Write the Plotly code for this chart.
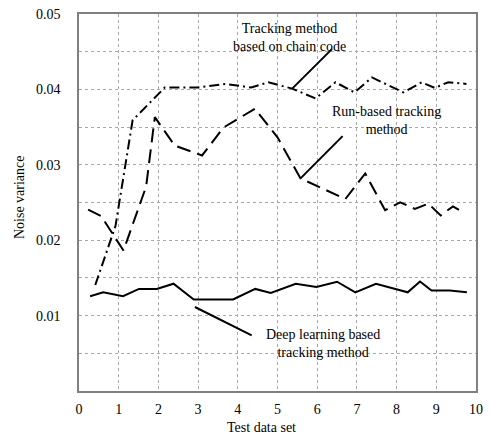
import plotly.graph_objects as go

# ---- data ----
deep_x = [0.28, 0.61, 1.11, 1.51, 1.96, 2.38, 2.89, 3.88, 4.44, 4.83, 5.46, 5.98, 6.50, 6.96, 7.48, 8.28, 8.59, 8.88, 9.34, 9.77]
deep_y = [0.01257, 0.01309, 0.01257, 0.01354, 0.01354, 0.01423, 0.01214, 0.01214, 0.01354, 0.01300,
          0.01423, 0.01380, 0.01449, 0.01309, 0.01423, 0.01309, 0.01453, 0.01332, 0.01332, 0.01309]

run_x = [0.23, 0.56, 1.12, 1.69, 1.91, 2.41, 3.10, 3.64, 4.43, 5.00, 5.58, 6.71, 7.21, 7.71, 8.09, 8.46, 8.80, 9.11, 9.42, 9.72]
run_y = [0.02406, 0.02319, 0.01863, 0.02710, 0.03633, 0.03255, 0.03124, 0.03495, 0.03743, 0.03364,
         0.02820, 0.02546, 0.02885, 0.02398, 0.02502, 0.02415, 0.02485, 0.02328, 0.02449, 0.02354]

chain_x = [0.41, 0.92, 1.35, 2.16, 2.99, 3.68, 4.34, 4.77, 5.37, 5.96, 6.46, 6.94, 7.38, 8.17, 8.63, 8.96, 9.30, 9.76]
chain_y = [0.01406, 0.02190, 0.03590, 0.04025, 0.04025, 0.04073, 0.04025, 0.04094, 0.04010, 0.03880,
           0.04094, 0.03960, 0.04159, 0.03960, 0.04094, 0.04020, 0.04094, 0.04073]

x_ticks = [0, 1, 2, 3, 4, 5, 6, 7, 8, 9, 10]
y_ticks = [0.01, 0.02, 0.03, 0.04, 0.05]
y_tick_text = ["0.01", "0.02", "0.03", "0.04", "0.05"]

labels = ["Tracking method<br>based on chain code",
          "Run-based tracking<br>method",
          "Deep learning based<br>tracking method"]
label_x = [5.29, 7.74, 6.14]
label_y = [0.04687, 0.0359, 0.00627]

# leader lines: (x0, y0, x1, y1)
leaders = [(5.37, 0.0401, 6.37, 0.04534),
           (5.58, 0.0282, 6.64, 0.0338),
           (2.92, 0.01114, 4.35, 0.00739)]

FONT = "Liberation Serif"

fig = go.Figure()
fig.add_trace(go.Scatter(x=chain_x, y=chain_y, mode="lines",
                         line=dict(color="black", width=2, dash="10px,4px,2px,4px"),
                         name="chain code"))
fig.add_trace(go.Scatter(x=run_x, y=run_y, mode="lines",
                         line=dict(color="black", width=2, dash="14px,7px"),
                         name="run-based"))
fig.add_trace(go.Scatter(x=deep_x, y=deep_y, mode="lines",
                         line=dict(color="black", width=2),
                         name="deep learning"))

for (x0, y0, x1, y1) in leaders:
    fig.add_shape(type="line", x0=x0, y0=y0, x1=x1, y1=y1, xref="x", yref="y",
                  line=dict(color="black", width=2))

for t, lx, ly in zip(labels, label_x, label_y):
    fig.add_annotation(x=lx, y=ly, xref="x", yref="y", text=t, showarrow=False,
                       font=dict(family=FONT, size=14, color="black"), align="center")

fig.add_annotation(x=0.4586, y=-0.0964, xref="paper", yref="paper", text="Test data set",
                   showarrow=False, font=dict(family=FONT, size=14, color="black"),
                   xanchor="center", yanchor="middle")
fig.add_annotation(x=-0.150, y=0.5156, xref="paper", yref="paper", text="Noise variance",
                   showarrow=False, textangle=-90, font=dict(family=FONT, size=14, color="black"),
                   xanchor="center", yanchor="middle")

grid = dict(showgrid=True, gridcolor="#a8a8a8", griddash="dot", gridwidth=1)
fig.update_xaxes(range=[0, 10], tickvals=x_ticks, ticks="", showline=True, mirror=True,
                 linecolor="#808080", linewidth=1.5, zeroline=False,
                 ticklabelstandoff=4,
                 tickfont=dict(family=FONT, size=14, color="black"), **grid)
fig.update_yaxes(range=[0, 0.05], tickvals=y_ticks, ticktext=y_tick_text, ticks="",
                 showline=True, mirror=True, linecolor="#808080", linewidth=1.5, zeroline=False,
                 ticklabelstandoff=14,
                 tickfont=dict(family=FONT, size=14, color="black"),
                 minor=dict(dtick=0.005, tick0=0, showgrid=True, gridcolor="#a8a8a8",
                            griddash="dot", gridwidth=1),
                 **grid)

fig.update_layout(width=490, height=441, showlegend=False,
                  margin=dict(l=79, r=12, t=7, b=50),
                  paper_bgcolor="white", plot_bgcolor="white",
                  font=dict(family=FONT, size=14, color="black"))

fig.write_html("out.html", config={"displayModeBar": False},
               post_script="document.body.style.margin='0';document.body.style.overflow='hidden';")
